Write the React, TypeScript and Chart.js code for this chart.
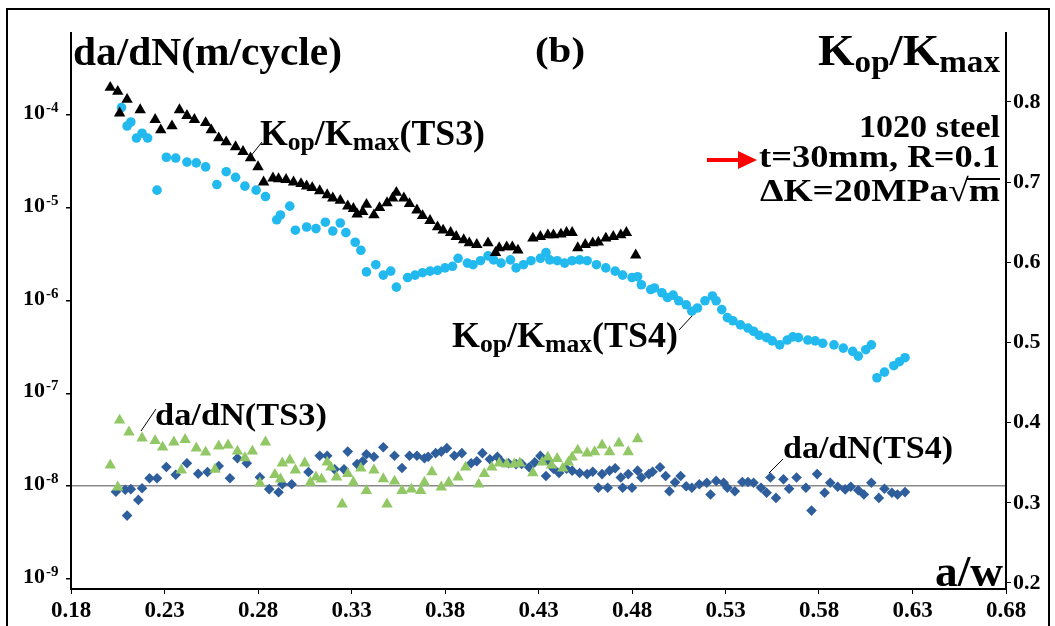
import React, { useEffect, useRef } from 'react';
import { Chart, registerables } from 'chart.js';

Chart.register(...registerables);

// ---------- axis ticks ----------
const xTicks = [0.18, 0.23, 0.28, 0.33, 0.38, 0.43, 0.48, 0.53, 0.58, 0.63, 0.68];
const rightTicks = [0.2, 0.3, 0.4, 0.5, 0.6, 0.7, 0.8];
const leftTicks = [1e-9, 1e-8, 1e-7, 1e-6, 1e-5, 1e-4];
const leftExponents = ['-9', '-8', '-7', '-6', '-5', '-4'];

// ---------- Kop/Kmax (TS3) : black triangles, right axis ----------
const kopTs3X = [0.201, 0.205, 0.206, 0.210, 0.217, 0.225, 0.228, 0.234, 0.238, 0.242, 0.246, 0.252, 0.255, 0.259, 0.263, 0.268, 0.272, 0.276, 0.280, 0.283, 0.288, 0.291, 0.295, 0.299, 0.303, 0.306, 0.309, 0.313, 0.317, 0.320, 0.324, 0.328, 0.331, 0.333, 0.336, 0.338, 0.342, 0.345, 0.349, 0.352, 0.354, 0.358, 0.361, 0.365, 0.368, 0.372, 0.376, 0.379, 0.383, 0.386, 0.390, 0.393, 0.397, 0.403, 0.407, 0.409, 0.413, 0.416, 0.419, 0.427, 0.431, 0.435, 0.438, 0.442, 0.445, 0.448, 0.451, 0.455, 0.459, 0.462, 0.466, 0.470, 0.474, 0.477, 0.482];
const kopTs3Y = [0.818, 0.813, 0.786, 0.803, 0.790, 0.778, 0.765, 0.770, 0.790, 0.783, 0.778, 0.774, 0.765, 0.755, 0.750, 0.744, 0.738, 0.730, 0.719, 0.700, 0.705, 0.704, 0.703, 0.700, 0.698, 0.695, 0.693, 0.689, 0.684, 0.680, 0.677, 0.670, 0.667, 0.660, 0.663, 0.672, 0.659, 0.668, 0.674, 0.680, 0.687, 0.680, 0.673, 0.665, 0.658, 0.652, 0.644, 0.640, 0.637, 0.632, 0.628, 0.624, 0.622, 0.624, 0.612, 0.618, 0.619, 0.619, 0.615, 0.630, 0.632, 0.634, 0.634, 0.635, 0.637, 0.637, 0.618, 0.622, 0.624, 0.625, 0.630, 0.632, 0.634, 0.637, 0.609];

// ---------- Kop/Kmax (TS4) : cyan circles, right axis ----------
const kopTs4X = [0.207, 0.210, 0.212, 0.215, 0.218, 0.221, 0.226, 0.231, 0.236, 0.242, 0.247, 0.252, 0.258, 0.263, 0.268, 0.273, 0.279, 0.284, 0.290, 0.292, 0.297, 0.300, 0.306, 0.311, 0.316, 0.320, 0.324, 0.327, 0.332, 0.335, 0.338, 0.343, 0.347, 0.351, 0.354, 0.360, 0.364, 0.368, 0.372, 0.376, 0.380, 0.384, 0.387, 0.392, 0.395, 0.399, 0.403, 0.406, 0.410, 0.415, 0.418, 0.422, 0.426, 0.431, 0.434, 0.436, 0.440, 0.444, 0.448, 0.452, 0.456, 0.461, 0.466, 0.471, 0.475, 0.480, 0.483, 0.485, 0.490, 0.492, 0.496, 0.499, 0.502, 0.505, 0.509, 0.512, 0.515, 0.519, 0.523, 0.525, 0.528, 0.531, 0.534, 0.538, 0.542, 0.545, 0.548, 0.552, 0.555, 0.559, 0.563, 0.566, 0.569, 0.574, 0.578, 0.582, 0.588, 0.593, 0.598, 0.601, 0.605, 0.608, 0.611, 0.615, 0.620, 0.623, 0.626];
const kopTs4Y = [0.793, 0.770, 0.775, 0.755, 0.761, 0.755, 0.690, 0.731, 0.730, 0.725, 0.724, 0.719, 0.697, 0.713, 0.706, 0.695, 0.690, 0.682, 0.653, 0.659, 0.670, 0.640, 0.644, 0.642, 0.650, 0.639, 0.649, 0.637, 0.625, 0.615, 0.588, 0.597, 0.584, 0.589, 0.569, 0.581, 0.584, 0.587, 0.589, 0.590, 0.593, 0.595, 0.605, 0.599, 0.597, 0.602, 0.608, 0.603, 0.599, 0.603, 0.593, 0.597, 0.602, 0.605, 0.612, 0.603, 0.602, 0.599, 0.602, 0.603, 0.602, 0.597, 0.593, 0.589, 0.584, 0.581, 0.582, 0.572, 0.566, 0.568, 0.562, 0.556, 0.559, 0.552, 0.547, 0.539, 0.543, 0.552, 0.558, 0.552, 0.541, 0.531, 0.527, 0.522, 0.518, 0.514, 0.509, 0.506, 0.502, 0.497, 0.503, 0.507, 0.506, 0.503, 0.502, 0.499, 0.497, 0.493, 0.489, 0.483, 0.491, 0.497, 0.456, 0.463, 0.471, 0.476, 0.481];

// ---------- da/dN (TS3) : green triangles, left log axis ----------
const dadnTs3X = [0.201, 0.205, 0.206, 0.211, 0.218, 0.225, 0.229, 0.235, 0.239, 0.241, 0.247, 0.252, 0.257, 0.259, 0.264, 0.269, 0.273, 0.277, 0.281, 0.284, 0.289, 0.292, 0.293, 0.297, 0.300, 0.305, 0.308, 0.311, 0.314, 0.317, 0.319, 0.322, 0.325, 0.328, 0.331, 0.335, 0.338, 0.342, 0.347, 0.349, 0.353, 0.357, 0.362, 0.367, 0.369, 0.373, 0.378, 0.382, 0.387, 0.391, 0.398, 0.401, 0.405, 0.409, 0.413, 0.417, 0.420, 0.427, 0.432, 0.435, 0.437, 0.440, 0.443, 0.446, 0.448, 0.451, 0.456, 0.460, 0.464, 0.468, 0.473, 0.478, 0.483];
const dadnTs3Y = [1.68e-8, 0.975e-8, 5.14e-8, 3.82e-8, 3.29e-8, 3.09e-8, 2.63e-8, 2.98e-8, 1.49e-8, 3.17e-8, 2.57e-8, 2.32e-8, 1.52e-8, 2.70e-8, 2.77e-8, 2.38e-8, 2.02e-8, 2.38e-8, 1.08e-8, 2.98e-8, 1.33e-8, 1.19e-8, 1.77e-8, 1.91e-8, 1.49e-8, 1.77e-8, 1.10e-8, 1.25e-8, 1.19e-8, 1.81e-8, 1.60e-8, 1.25e-8, 0.64e-8, 1.36e-8, 1.10e-8, 1.56e-8, 0.895e-8, 1.49e-8, 1.20e-8, 0.64e-8, 1.13e-8, 0.895e-8, 0.929e-8, 0.895e-8, 1.10e-8, 1.42e-8, 0.975e-8, 1.10e-8, 1.25e-8, 1.60e-8, 1.05e-8, 1.36e-8, 1.60e-8, 1.77e-8, 1.73e-8, 1.73e-8, 1.77e-8, 1.39e-8, 1.81e-8, 2.05e-8, 1.68e-8, 1.98e-8, 1.56e-8, 1.81e-8, 2.05e-8, 2.44e-8, 2.27e-8, 2.34e-8, 2.77e-8, 2.34e-8, 2.91e-8, 2.34e-8, 3.24e-8];

// ---------- da/dN (TS4) : blue diamonds, left log axis ----------
const dadnTs4X = [0.204, 0.209, 0.210, 0.212, 0.216, 0.218, 0.222, 0.226, 0.231, 0.236, 0.242, 0.248, 0.253, 0.259, 0.265, 0.269, 0.274, 0.281, 0.286, 0.291, 0.293, 0.298, 0.307, 0.313, 0.317, 0.321, 0.326, 0.328, 0.333, 0.336, 0.338, 0.342, 0.347, 0.353, 0.357, 0.361, 0.365, 0.369, 0.371, 0.375, 0.378, 0.381, 0.385, 0.389, 0.394, 0.397, 0.400, 0.404, 0.408, 0.410, 0.414, 0.418, 0.421, 0.425, 0.428, 0.431, 0.434, 0.435, 0.438, 0.441, 0.445, 0.448, 0.452, 0.456, 0.459, 0.462, 0.464, 0.467, 0.468, 0.471, 0.474, 0.475, 0.478, 0.480, 0.483, 0.485, 0.489, 0.491, 0.495, 0.498, 0.500, 0.503, 0.506, 0.509, 0.512, 0.516, 0.520, 0.522, 0.525, 0.529, 0.531, 0.535, 0.539, 0.542, 0.545, 0.549, 0.552, 0.554, 0.557, 0.561, 0.564, 0.568, 0.573, 0.576, 0.579, 0.583, 0.586, 0.590, 0.594, 0.597, 0.601, 0.604, 0.608, 0.612, 0.615, 0.619, 0.622, 0.626];
const dadnTs4Y = [0.87e-8, 0.917e-8, 0.482e-8, 0.929e-8, 0.712e-8, 0.951e-8, 1.22e-8, 1.22e-8, 1.61e-8, 1.33e-8, 1.77e-8, 1.36e-8, 1.42e-8, 1.65e-8, 1.22e-8, 2.00e-8, 1.77e-8, 1.25e-8, 0.929e-8, 0.862e-8, 1.05e-8, 1.05e-8, 1.42e-8, 2.13e-8, 2.13e-8, 1.52e-8, 1.52e-8, 2.36e-8, 1.73e-8, 1.86e-8, 2.21e-8, 2.08e-8, 2.63e-8, 2.13e-8, 1.57e-8, 2.13e-8, 2.13e-8, 2.00e-8, 2.08e-8, 2.27e-8, 2.36e-8, 2.57e-8, 2.13e-8, 2.27e-8, 1.77e-8, 1.86e-8, 2.27e-8, 1.95e-8, 2.08e-8, 1.86e-8, 1.77e-8, 1.73e-8, 1.74e-8, 1.60e-8, 1.81e-8, 2.12e-8, 1.29e-8, 1.91e-8, 1.54e-8, 1.39e-8, 1.54e-8, 1.47e-8, 1.39e-8, 1.35e-8, 1.43e-8, 0.964e-8, 1.35e-8, 0.964e-8, 1.47e-8, 1.56e-8, 1.24e-8, 0.964e-8, 1.35e-8, 0.964e-8, 1.47e-8, 1.24e-8, 1.35e-8, 1.43e-8, 1.60e-8, 1.29e-8, 0.883e-8, 1.10e-8, 1.29e-8, 1.00e-8, 0.964e-8, 1.05e-8, 1.09e-8, 0.814e-8, 1.14e-8, 1.09e-8, 0.964e-8, 0.883e-8, 1.11e-8, 1.11e-8, 1.09e-8, 0.964e-8, 0.849e-8, 1.24e-8, 0.748e-8, 1.19e-8, 0.940e-8, 1.24e-8, 0.964e-8, 0.546e-8, 1.35e-8, 0.849e-8, 1.09e-8, 0.988e-8, 0.924e-8, 0.988e-8, 0.906e-8, 0.814e-8, 1.09e-8, 0.748e-8, 0.940e-8, 0.849e-8, 0.814e-8, 0.864e-8];

const FONT = '"Liberation Serif", "Times New Roman", serif';

function setFont(ctx: CanvasRenderingContext2D, size: number, bold = true) {
  ctx.font = `${bold ? 'bold ' : ''}${size}px ${FONT}`;
}

type Seg = { t: string; size: number; dy?: number; bold?: boolean };

function drawRich(
  ctx: CanvasRenderingContext2D,
  segs: Seg[],
  x: number,
  baseline: number,
  width: number,
  align: 'left' | 'right' | 'center'
) {
  const ws: number[] = [];
  let total = 0;
  for (const s of segs) {
    setFont(ctx, s.size, s.bold !== false);
    const w = ctx.measureText(s.t).width;
    ws.push(w);
    total += w;
  }
  const sx = width / total;
  const x0 = align === 'left' ? x : align === 'right' ? x - width : x - width / 2;
  const starts: number[] = [];
  ctx.save();
  ctx.fillStyle = '#000';
  ctx.textAlign = 'left';
  ctx.textBaseline = 'alphabetic';
  ctx.translate(x0, baseline);
  ctx.scale(sx, 1);
  let cx = 0;
  segs.forEach((s, i) => {
    setFont(ctx, s.size, s.bold !== false);
    ctx.fillText(s.t, cx, s.dy || 0);
    starts.push(x0 + cx * sx);
    cx += ws[i];
  });
  ctx.restore();
  return { starts, widths: ws.map((w) => w * sx) };
}

function line(ctx: CanvasRenderingContext2D, x1: number, y1: number, x2: number, y2: number, w = 1, color = '#000') {
  ctx.save();
  ctx.strokeStyle = color;
  ctx.lineWidth = w;
  ctx.beginPath();
  ctx.moveTo(x1, y1);
  ctx.lineTo(x2, y2);
  ctx.stroke();
  ctx.restore();
}

const annotationPlugin = {
  id: 'annotations',
  afterDraw(chart: any) {
    const ctx: CanvasRenderingContext2D = chart.ctx;
    const yScale = chart.scales.y;

    // left log-axis tick labels 10^n
    ctx.save();
    ctx.fillStyle = '#000';
    leftTicks.forEach((v, i) => {
      const py = yScale.getPixelForValue(v);
      setFont(ctx, 22);
      ctx.textAlign = 'right';
      ctx.textBaseline = 'alphabetic';
      ctx.fillText('10', 45, py + 4);
      setFont(ctx, 15);
      ctx.textAlign = 'left';
      ctx.fillText(leftExponents[i], 46, py - 3);
    });
    ctx.restore();

    // axis titles
    drawRich(ctx, [{ t: 'da/dN(m/cycle)', size: 40 }], 73, 65, 269, 'left');
    drawRich(ctx, [{ t: '(b)', size: 36 }], 560, 62, 50, 'center');
    drawRich(
      ctx,
      [
        { t: 'K', size: 44 },
        { t: 'op', size: 31, dy: 7 },
        { t: '/', size: 44 },
        { t: 'K', size: 44 },
        { t: 'max', size: 31, dy: 7 },
      ],
      1000,
      65,
      182,
      'right'
    );
    drawRich(ctx, [{ t: 'a/w', size: 44 }], 1003, 586, 68, 'right');

    // info block
    drawRich(ctx, [{ t: '1020 steel', size: 32 }], 1000, 137, 141, 'right');
    drawRich(ctx, [{ t: 't=30mm, R=0.1', size: 32 }], 1000, 167, 241, 'right');
    const dk = drawRich(
      ctx,
      [
        { t: '\u0394K=20MPa', size: 32 },
        { t: '\u221A', size: 32, bold: false },
        { t: 'm', size: 32 },
      ],
      1000,
      201,
      240,
      'right'
    );
    line(ctx, dk.starts[1] + dk.widths[1] - 2, 179, dk.starts[2] + dk.widths[2], 179, 2);

    // red arrow
    ctx.save();
    ctx.fillStyle = '#ff0000';
    ctx.fillRect(707, 158, 34, 4);
    ctx.beginPath();
    ctx.moveTo(738, 151);
    ctx.lineTo(757, 160);
    ctx.lineTo(738, 169);
    ctx.closePath();
    ctx.fill();
    ctx.restore();

    // series labels
    const kk = (suffix: string): Seg[] => [
      { t: 'K', size: 35 },
      { t: 'op', size: 25, dy: 5 },
      { t: '/', size: 35 },
      { t: 'K', size: 35 },
      { t: 'max', size: 25, dy: 5 },
      { t: suffix, size: 35 },
    ];
    drawRich(ctx, kk('(TS3)'), 260, 145, 225, 'left');
    line(ctx, 262, 142, 250, 157);
    drawRich(ctx, kk('(TS4)'), 452, 347, 226, 'left');
    line(ctx, 679, 330, 692, 316);
    drawRich(ctx, [{ t: 'da/dN(TS3)', size: 32 }], 155, 425, 172, 'left');
    line(ctx, 156, 409, 141, 431);
    drawRich(ctx, [{ t: 'da/dN(TS4)', size: 32 }], 783, 458, 170, 'left');
    line(ctx, 783, 459, 769, 473);
  },
};

function zip(xs: number[], ys: number[]) {
  return xs.map((x, i) => ({ x, y: ys[i] }));
}

export default function App() {
  const canvasRef = useRef<HTMLCanvasElement | null>(null);

  useEffect(() => {
    const canvas = canvasRef.current;
    if (!canvas) return;
    const xTickFont = { family: FONT, size: 23, weight: 'bold' as const };
    const rTickFont = { family: FONT, size: 22, weight: 'bold' as const };
    const chart = new Chart(canvas, {
      type: 'scatter',
      data: {
        datasets: [
          {
            label: 'Kop/Kmax(TS3)',
            data: zip(kopTs3X, kopTs3Y),
            yAxisID: 'y2',
            pointStyle: 'triangle',
            pointRadius: 6.6,
            backgroundColor: '#000000',
            borderColor: '#000000',
            borderWidth: 0,
          },
          {
            label: 'Kop/Kmax(TS4)',
            data: zip(kopTs4X, kopTs4Y),
            yAxisID: 'y2',
            pointStyle: 'circle',
            pointRadius: 4.8,
            backgroundColor: '#22b9ee',
            borderColor: '#22b9ee',
            borderWidth: 0,
          },
          {
            label: 'da/dN(TS3)',
            data: zip(dadnTs3X, dadnTs3Y),
            yAxisID: 'y',
            pointStyle: 'triangle',
            pointRadius: 6.6,
            backgroundColor: '#92c766',
            borderColor: '#92c766',
            borderWidth: 0,
          },
          {
            label: 'da/dN(TS4)',
            data: zip(dadnTs4X, dadnTs4Y),
            yAxisID: 'y',
            pointStyle: 'rectRot',
            pointRadius: 5.3,
            backgroundColor: '#2f5e9c',
            borderColor: '#2f5e9c',
            borderWidth: 0,
          },
        ],
      },
      options: {
        animation: false,
        responsive: false,
        maintainAspectRatio: false,
        devicePixelRatio: 1,
        events: [],
        layout: { padding: { top: 33, left: 0, right: 0, bottom: 0 } },
        plugins: {
          legend: { display: false },
          tooltip: { enabled: false },
        },
        scales: {
          x: {
            type: 'linear',
            position: 'bottom',
            min: 0.18,
            max: 0.68,
            afterBuildTicks: (s: any) => {
              s.ticks = xTicks.map((v) => ({ value: v }));
            },
            afterFit: (s: any) => {
              s.height = 37;
            },
            ticks: {
              callback: (v: any) => Number(v).toFixed(2),
              font: xTickFont,
              color: '#000',
              padding: 3,
              maxRotation: 0,
              autoSkip: false,
            },
            grid: { drawOnChartArea: false, drawTicks: true, tickLength: 5, tickColor: '#000', color: '#000' },
            border: { display: true, color: '#000', width: 2 },
          },
          y: {
            type: 'logarithmic',
            position: 'left',
            min: 7.8e-10,
            max: 7.66e-4,
            afterBuildTicks: (s: any) => {
              s.ticks = leftTicks.map((v) => ({ value: v }));
            },
            afterFit: (s: any) => {
              s.width = 71;
            },
            ticks: { display: false },
            grid: {
              drawOnChartArea: true,
              drawTicks: true,
              tickLength: 5,
              tickColor: '#000',
              lineWidth: 1.5,
              color: (c: any) => (c.tick && c.tick.value === 1e-8 ? '#8a8a8a' : 'rgba(0,0,0,0)'),
            },
            border: { display: true, color: '#000', width: 2 },
          },
          y2: {
            type: 'linear',
            position: 'right',
            min: 0.1925,
            max: 0.886,
            afterBuildTicks: (s: any) => {
              s.ticks = rightTicks.map((v) => ({ value: v }));
            },
            afterFit: (s: any) => {
              s.width = 49;
            },
            ticks: {
              callback: (v: any) => Number(v).toFixed(1),
              font: rTickFont,
              color: '#000',
              padding: 2,
            },
            grid: { drawOnChartArea: false, drawTicks: true, tickLength: 5, tickColor: '#000', color: '#000' },
            border: { display: true, color: '#000', width: 2 },
          },
        },
      },
      plugins: [annotationPlugin],
    } as any);
    return () => chart.destroy();
  }, []);

  return (
    <div style={{ position: 'fixed', left: 0, top: 0, width: 1055, height: 626, background: '#fff', overflow: 'hidden' }}>
      <div
        style={{
          position: 'absolute',
          left: 6,
          top: 8,
          width: 1044,
          height: 660,
          boxSizing: 'border-box',
          border: '2px solid #000',
        }}
      />
      <canvas ref={canvasRef} width={1055} height={626} style={{ position: 'absolute', left: 0, top: 0 }} />
    </div>
  );
}
